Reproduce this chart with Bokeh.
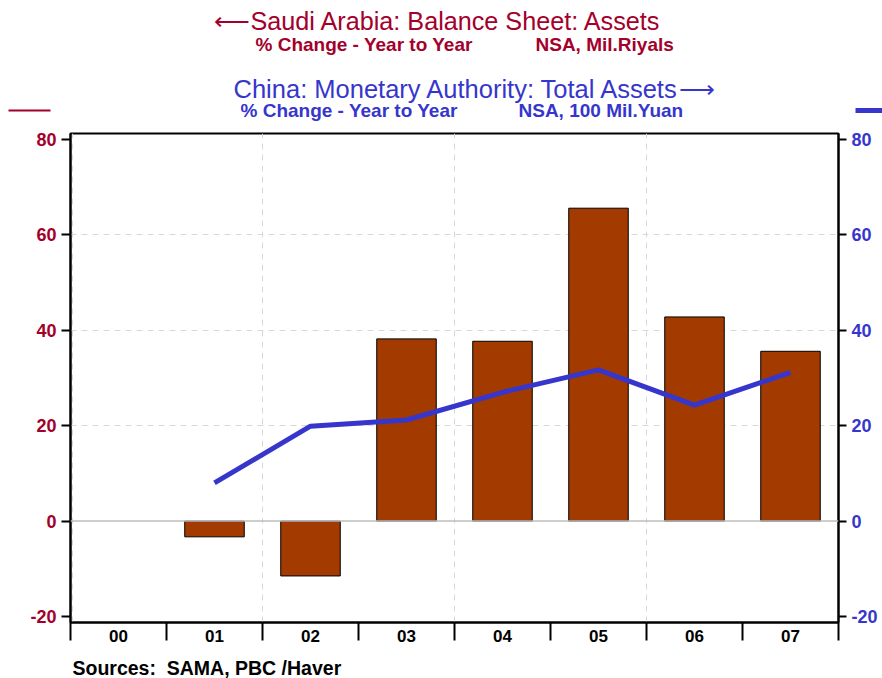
from bokeh.plotting import figure
from bokeh.models import Range1d, LinearAxis, FixedTicker, Span
from bokeh.layouts import column
from bokeh.core.properties import value
from bokeh.embed import file_html
from bokeh.resources import INLINE

years = ["00", "01", "02", "03", "04", "05", "06", "07"]
saudi_yoy = [None, -3.3, -11.5, 38.2, 37.7, 65.6, 42.8, 35.6]
china_yoy = [None, 8.0, 19.9, 21.2, 27.0, 31.7, 24.3, 31.2]
y_ticks = [-20, 0, 20, 40, 60, 80]
grid_y = [20, 40, 60]

RED = "#A3002B"
BLUE = "#3636CC"
BAR = "#A33B00"
FONT = "Liberation Sans"
W = 882
HEAD_H, MAIN_H, FOOT_H = 123, 531, 24


def blank(h):
    f = figure(width=W, height=h, output_backend="svg", toolbar_location=None,
               x_range=Range1d(0, W), y_range=Range1d(h, 0),
               x_axis_location=None, y_axis_location=None,
               min_border=0, outline_line_color=None)
    f.grid.visible = False
    f.frame_align = False
    return f


def txt(f, x, y, s, color, size, bold=False, align="left"):
    f.text(x=[x], y=[y], text=[s], text_color=color, text_font=value(FONT),
           text_font_size=size, text_font_style="bold" if bold else "normal",
           text_baseline="middle", text_align=align)


# ---- header with titles and legend keys
head = blank(HEAD_H)
txt(head, 249, 20, "\u27f5", RED, "25px", align="right")
txt(head, 250, 20, "Saudi Arabia: Balance Sheet: Assets", RED, "25.2px")
txt(head, 255, 44, "% Change - Year to Year", RED, "19px", bold=True)
txt(head, 535, 44, "NSA, Mil.Riyals", RED, "19px", bold=True)
txt(head, 233, 88, "China: Monetary Authority: Total Assets", BLUE, "25.5px")
txt(head, 678, 88, "\u27f6", BLUE, "25px")
txt(head, 240, 110, "% Change - Year to Year", BLUE, "19px", bold=True)
txt(head, 518, 110, "NSA, 100 Mil.Yuan", BLUE, "19px", bold=True)
head.segment(x0=[8], y0=[110], x1=[50], y1=[110], line_color=RED, line_width=2)
head.segment(x0=[855], y0=[110], x1=[W], y1=[110], line_color=BLUE, line_width=5)

# ---- main chart
ymin, ymax = -21.26, 81.26
p = figure(width=W, height=MAIN_H, output_backend="svg", toolbar_location=None,
           x_range=Range1d(0, len(years)), y_range=Range1d(ymin, ymax),
           min_border_left=70, min_border_right=44, min_border_top=10, min_border_bottom=32)
p.extra_y_ranges = {"right": Range1d(ymin, ymax)}
p.outline_line_color = "black"
p.outline_line_width = 2

p.xgrid.ticker = FixedTicker(ticks=[0.02, 2, 4, 6])
p.xgrid.grid_line_color = "#D8D8D8"
p.xgrid.grid_line_dash = "6 5"
p.ygrid.ticker = FixedTicker(ticks=grid_y)
p.ygrid.grid_line_color = "#D8D8D8"
p.ygrid.grid_line_dash = "6 5"
p.add_layout(Span(location=0, dimension="width", line_color="#BEBEBE", line_width=1.5))

bx = [i + 0.5 for i, v in enumerate(saudi_yoy) if v is not None]
bt = [v for v in saudi_yoy if v is not None]
p.vbar(x=bx, top=bt, bottom=0, width=0.62, fill_color=BAR, line_color="black", line_width=1)

lx = [i + 0.5 for i, v in enumerate(china_yoy) if v is not None]
ly = [v for v in china_yoy if v is not None]
p.line(x=lx, y=ly, line_color=BLUE, line_width=5, y_range_name="right")

tick_text = {t: str(t) for t in y_ticks}

centers = [i + 0.5 for i in range(len(years))]
xax = p.xaxis[0]
xax.ticker = FixedTicker(ticks=centers, minor_ticks=list(range(len(years) + 1)))
xax.major_label_overrides = {c: y for c, y in zip(centers, years)}
xax.major_tick_out = 0
xax.major_tick_in = 0
xax.minor_tick_out = 18
xax.minor_tick_in = 0
xax.minor_tick_line_width = 2
xax.minor_tick_line_color = "black"
xax.axis_line_width = 2
xax.major_label_standoff = -11
xax.major_label_text_font = FONT
xax.major_label_text_font_style = "bold"
xax.major_label_text_font_size = "17px"
xax.major_label_text_color = "black"

yax = p.yaxis[0]
yax.ticker = FixedTicker(ticks=y_ticks)
yax.major_label_overrides = tick_text
yax.minor_tick_line_color = None
yax.major_tick_out = 9
yax.major_tick_in = 0
yax.major_tick_line_width = 2
yax.axis_line_width = 2
yax.major_label_standoff = 5
yax.major_label_text_color = RED
yax.major_label_text_font_style = "bold"
yax.major_label_text_font_size = "18px"
yax.major_label_text_font = FONT

rax = LinearAxis(y_range_name="right", ticker=FixedTicker(ticks=y_ticks))
rax.major_label_overrides = tick_text
rax.minor_tick_line_color = None
rax.major_tick_out = 8
rax.major_tick_in = 0
rax.major_tick_line_width = 2
rax.axis_line_width = 2
rax.major_label_standoff = 5
rax.major_label_text_color = BLUE
rax.major_label_text_font_style = "bold"
rax.major_label_text_font_size = "18px"
rax.major_label_text_font = FONT
p.add_layout(rax, "right")

# ---- footer
foot = blank(FOOT_H)
txt(foot, 72, 13, "Sources:\u00a0\u00a0SAMA, PBC /Haver", "black", "19.5px", bold=True)

layout = column(head, p, foot, spacing=0)
open("out.html", "w").write(file_html(layout, INLINE))
